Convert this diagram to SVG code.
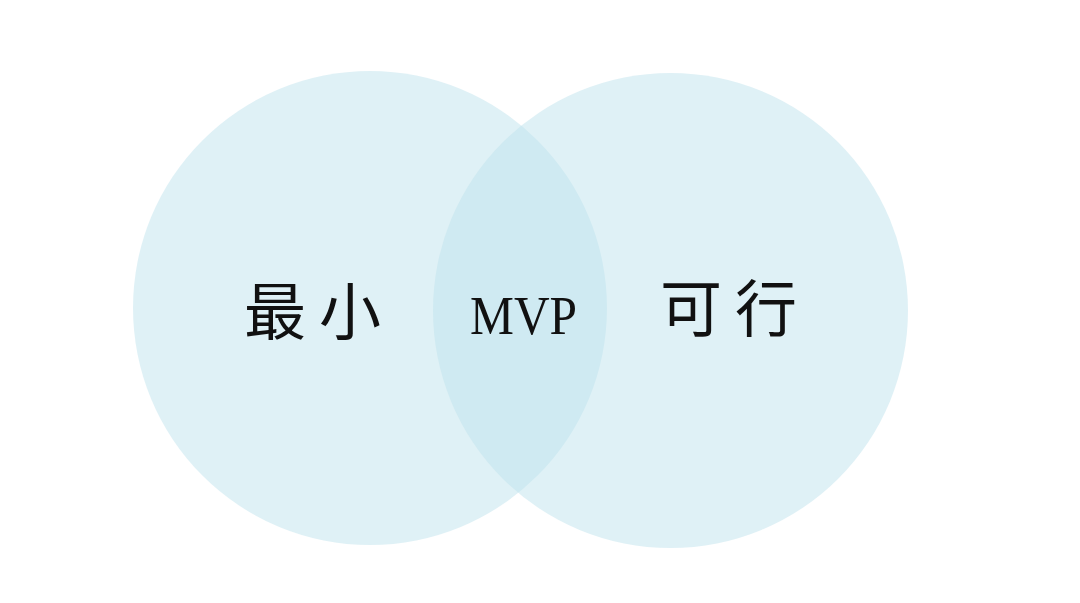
<svg xmlns="http://www.w3.org/2000/svg" width="1080" height="603" viewBox="0 0 1080 603">
<style>
.c{fill:#bfe4ee;fill-opacity:0.5}
.cjk{font-family:"Noto Sans CJK SC","Noto Sans CJK JP",sans-serif;font-size:62px;fill:#111;text-anchor:middle}
.lat{font-family:"Liberation Serif",serif;font-size:54px;fill:#111;text-anchor:middle}
</style>
<rect width="1080" height="603" fill="#ffffff"/>
<g id="connectors"></g>
<g id="left">
<circle class="c" cx="370" cy="308" r="237"/>
<text class="cjk" x="275 350" y="335">最小</text>
</g>
<g id="right">
<circle class="c" cx="670.5" cy="310.5" r="237.5"/>
<text class="cjk" x="691 766" y="332">可行</text>
</g>
<g id="mvp">
<text class="lat" x="523.5" y="334" textLength="107" lengthAdjust="spacingAndGlyphs">MVP</text>
</g>
</svg>
